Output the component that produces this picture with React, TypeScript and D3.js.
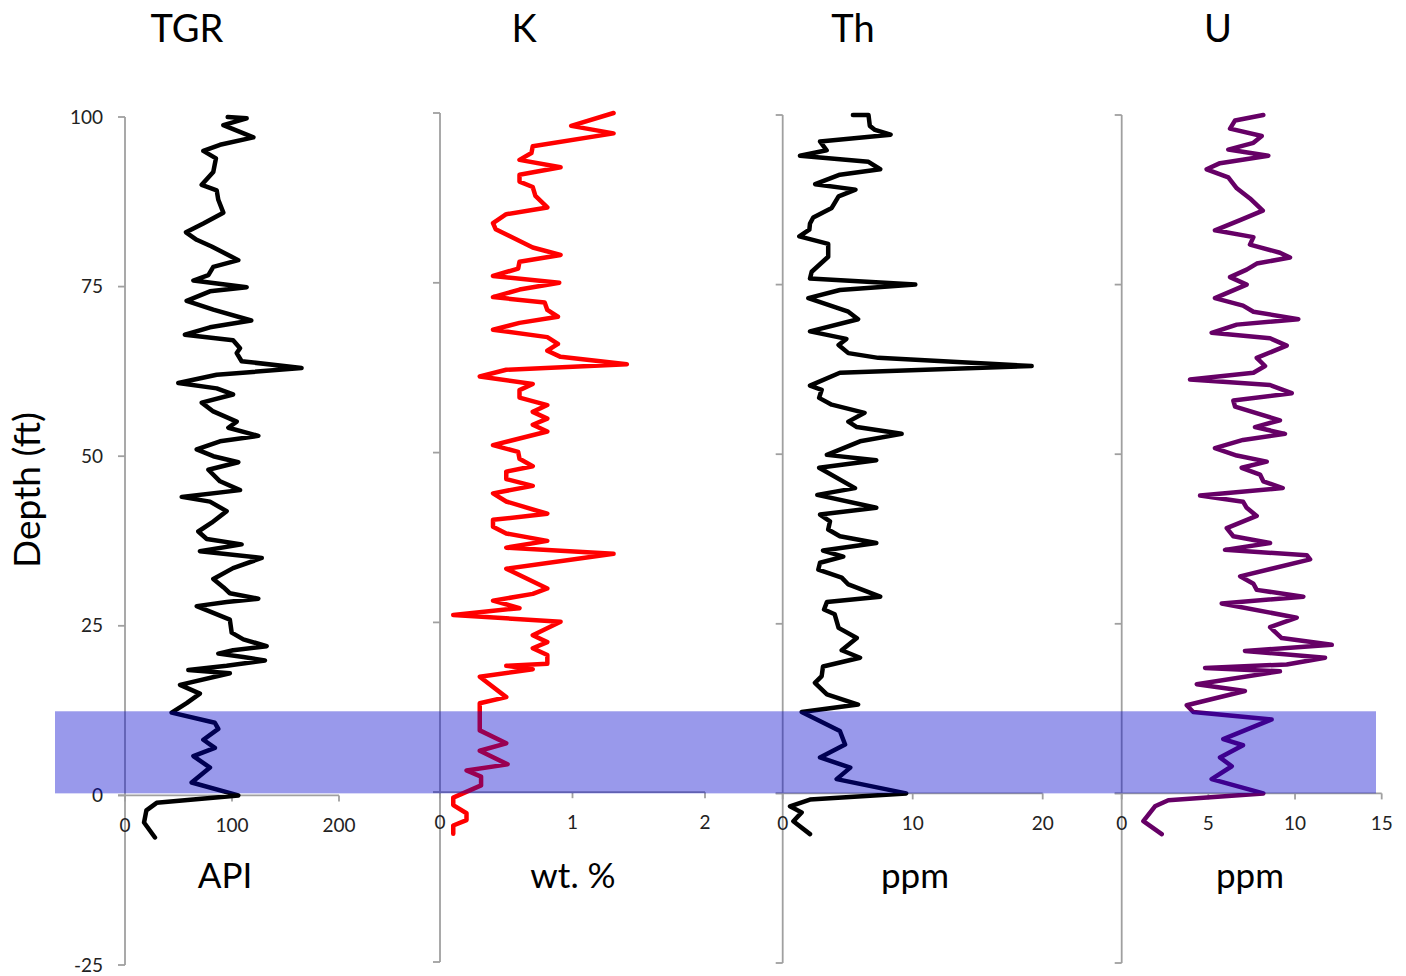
import React from "react";
import * as d3 from "d3";

// ---------- data ----------
const titles = ["TGR", "K", "Th", "U"];
const units = ["API", "wt. %", "ppm", "ppm"];
const depthTicks = [-25, 0, 25, 50, 75, 100];
const tgrTicks = [0, 100, 200];
const kTicks = [0, 1, 2];
const thTicks = [0, 10, 20];
const uTicks = [0, 5, 10, 15];

const tgrDepth = [100, 99.8, 98.8, 97.0, 95.9, 95.0, 93.9, 91.9, 90.0, 89.2, 87.8, 85.9, 84.3, 83.0, 81.9, 80.9, 78.9, 77.9, 76.7, 75.9, 74.9, 74.3, 72.9, 71.6, 70.0, 69.0, 67.9, 67.1, 65.9, 65.2, 64.0, 63.0, 62.0, 60.8, 60.0, 59.1, 57.9, 56.6, 55.1, 54.2, 53.0, 52.2, 51.0, 50.0, 49.1, 48.0, 46.3, 45.0, 44.0, 43.3, 41.9, 40.2, 38.9, 37.8, 37.0, 36.0, 35.0, 33.5, 31.9, 30.7, 29.8, 29.0, 28.5, 27.9, 26.9, 25.9, 24.0, 23.0, 22.0, 21.4, 20.9, 20.4, 19.9, 19.1, 18.5, 18.0, 16.3, 15.0, 13.6, 12.2, 10.7, 9.8, 8.2, 7.0, 5.8, 4.1, 1.9, 0, -1.1, -2.2, -4.0, -6.2];
const tgrValue = [96, 113.7, 91.9, 120, 88.8, 73.2, 85, 82.5, 71.7, 85.7, 87.2, 91.9, 73.2, 57, 67, 81, 105.9, 82.5, 77.9, 63.9, 113.7, 79.4, 57.6, 82.5, 118, 79.4, 56, 101, 107.5, 104.4, 109, 165, 85.7, 49.8, 85.7, 101, 71.7, 82.5, 104.4, 96.6, 124.6, 88.8, 67, 82.5, 105.9, 77.9, 88.8, 107.5, 53, 79.4, 95, 81, 68.5, 76.4, 109, 70, 127.8, 101, 82.5, 91.9, 98, 124.6, 95, 67, 82.5, 98, 99.7, 110.6, 132.4, 101, 87.2, 110.6, 130.8, 95, 59.2, 98, 51.4, 70, 57.6, 43.6, 84, 87.2, 73.2, 84, 63.9, 79.4, 62.3, 105.9, 29.6, 20, 17.8, 28];

const kDepth = [100, 98.1, 97.0, 95.1, 94.1, 93.1, 92.0, 90.9, 89.9, 89.1, 87.8, 86.1, 85.1, 83.8, 82.9, 80.2, 79.1, 78.1, 77.1, 76.0, 75.0, 74.0, 72.9, 72.1, 71.0, 70.0, 69.1, 68.1, 67.0, 66.0, 65.0, 64.1, 63.0, 62.2, 61.2, 60.1, 59.2, 58.1, 57.0, 56.0, 55.0, 54.1, 53.1, 51.1, 50.1, 49.1, 48.0, 47.2, 46.1, 45.1, 44.0, 42.8, 41.0, 40.1, 39.1, 38.1, 37.0, 36.0, 35.1, 32.9, 30.0, 29.2, 28.2, 27.1, 26.1, 25.1, 23.1, 22.1, 21.2, 20.2, 18.9, 18.6, 18.1, 17.0, 14.0, 13.1, 9.1, 7.2, 6.1, 4.1, 3.2, 2.3, 1.0, -0.8, -1.9, -3.1, -4.1, -4.9, -6.1];
const kValue = [1.31, 0.99, 1.31, 0.70, 0.69, 0.60, 0.91, 0.60, 0.60, 0.70, 0.72, 0.81, 0.50, 0.40, 0.42, 0.70, 0.91, 0.60, 0.59, 0.40, 0.90, 0.60, 0.40, 0.79, 0.81, 0.89, 0.60, 0.40, 0.81, 0.89, 0.81, 0.91, 1.41, 0.50, 0.30, 0.70, 0.60, 0.60, 0.81, 0.70, 0.81, 0.70, 0.81, 0.40, 0.59, 0.60, 0.70, 0.50, 0.50, 0.70, 0.40, 0.50, 0.81, 0.40, 0.40, 0.50, 0.81, 0.50, 1.31, 0.50, 0.81, 0.70, 0.40, 0.60, 0.10, 0.91, 0.70, 0.81, 0.70, 0.81, 0.81, 0.50, 0.70, 0.30, 0.50, 0.30, 0.30, 0.50, 0.30, 0.51, 0.20, 0.31, 0.31, 0.10, 0.10, 0.20, 0.20, 0.10, 0.10];

const thDepth = [100, 100, 98.4, 97.8, 97.1, 96.1, 94.8, 94.0, 93.1, 92.0, 91.2, 89.8, 89.0, 88.0, 86.3, 84.9, 84.0, 83.1, 82.1, 81.0, 79.1, 76.9, 75.9, 75.0, 74.2, 73.0, 71.0, 69.9, 68.1, 67.0, 66.1, 64.9, 64.2, 63.0, 62.0, 60.1, 59.5, 58.3, 57.3, 56.1, 54.8, 54.0, 53.0, 51.9, 49.9, 49.1, 48.0, 45.0, 44.0, 42.1, 41.1, 40.1, 38.9, 37.9, 36.9, 35.8, 34.9, 34.0, 33.0, 31.8, 30.8, 29.0, 28.2, 27.1, 26.4, 24.4, 22.9, 21.1, 20.0, 18.7, 17.3, 16.3, 14.6, 13.1, 12.0, 9.2, 7.2, 5.3, 3.8, 2.1, 0, -0.9, -1.9, -2.8, -4.1, -6.0];
const thValue = [5.4, 6.6, 6.7, 7.1, 8.3, 2.87, 3.38, 1.33, 6.6, 7.5, 4.4, 2.5, 5.6, 4.3, 3.77, 2.35, 2.1, 2.05, 1.28, 3.5, 3.5, 2.23, 2.1, 10.2, 4.4, 1.97, 5.05, 5.8, 2.1, 4.9, 4.3, 5.05, 7.35, 19.15, 4.4, 2.1, 3.0, 2.8, 3.77, 6.3, 5.05, 5.7, 9.15, 5.95, 3.4, 7.2, 2.8, 5.56, 2.66, 7.2, 2.87, 3.64, 3.5, 4.4, 7.2, 3.1, 4.66, 2.87, 2.74, 4.54, 5.05, 7.5, 3.4, 3.18, 4.0, 4.3, 5.7, 4.54, 5.95, 3.1, 3.0, 2.48, 3.4, 5.8, 1.46, 4.4, 4.8, 2.87, 5.2, 4.15, 9.5, 2.1, 0.56, 1.46, 0.82, 2.1];

const uDepth = [100, 99.2, 98.0, 96.9, 95.9, 94.9, 94.0, 92.9, 92.0, 90.8, 89.2, 87.7, 85.9, 84.5, 83.0, 82.0, 80.9, 79.7, 79.0, 78.1, 77.2, 76.1, 75.0, 73.0, 71.9, 71.0, 69.9, 69.1, 67.9, 67.1, 66.0, 64.2, 63.0, 62.0, 61.0, 60.2, 59.0, 57.9, 57.0, 55.0, 54.0, 53.0, 52.1, 50.9, 49.8, 48.9, 48.0, 47.0, 46.0, 45.0, 43.9, 43.0, 42.1, 40.9, 39.1, 37.9, 36.9, 35.9, 35.1, 34.5, 32.0, 30.9, 30.0, 29.0, 28.0, 25.9, 24.5, 22.9, 21.9, 21.0, 20.0, 19.0, 18.5, 18.0, 16.1, 15.1, 13.0, 12.0, 10.9, 8.0, 7.1, 5.3, 4.0, 2.1, 0, -1.0, -1.9, -4.1, -6.0];
const uValue = [8.17, 6.54, 6.25, 8.08, 7.6, 6.15, 8.46, 5.67, 4.9, 6.15, 6.64, 7.4, 8.14, 6.83, 5.38, 7.6, 7.4, 9.13, 9.71, 7.79, 7.21, 6.25, 7.21, 5.38, 7.0, 7.6, 10.19, 6.64, 5.19, 8.56, 9.52, 7.79, 8.27, 7.6, 3.94, 8.56, 9.81, 6.44, 6.54, 9.13, 7.69, 9.42, 7.0, 5.38, 6.64, 8.37, 6.92, 7.98, 8.17, 9.29, 4.52, 7.0, 7.21, 7.79, 6.06, 6.44, 8.56, 5.96, 10.68, 10.87, 6.83, 7.6, 7.79, 10.48, 5.77, 10.1, 8.56, 9.23, 12.12, 7.11, 11.73, 9.52, 4.81, 9.13, 4.33, 7.11, 3.75, 4.13, 8.65, 5.86, 7.0, 5.67, 6.35, 5.19, 8.17, 2.69, 1.92, 1.25, 2.31];

const bandDepth = [0.3, 12.4];

// ---------- layout ----------
const W = 1406;
const H = 976;
const FONT = "Lato, 'Open Sans', sans-serif";
const AXIS = "#a0a0a0";

const panels = [
  { depth: tgrDepth, value: tgrValue, ticks: tgrTicks, color: "#000000", left: 125, right: 339, top: 117, bottom: 965, titleX: 187, unitX: 225, depthLabels: true },
  { depth: kDepth, value: kValue, ticks: kTicks, color: "#ff0000", left: 440, right: 705, top: 113, bottom: 962, titleX: 524, unitX: 573, depthLabels: false },
  { depth: thDepth, value: thValue, ticks: thTicks, color: "#000000", left: 782.7, right: 1042.7, top: 115, bottom: 963, titleX: 853, unitX: 915, depthLabels: false },
  { depth: uDepth, value: uValue, ticks: uTicks, color: "#660066", left: 1121.7, right: 1381.7, top: 115, bottom: 963, titleX: 1218, unitX: 1250, depthLabels: false },
];

const bandLeft = 55;
const bandRight = 1376;

export default function App() {
  const bandY = d3.scaleLinear().domain([-25, 100]).range([panels[0].bottom, panels[0].top]);
  return (
    <svg
      width={W}
      height={H}
      style={{ position: "absolute", left: 0, top: 0, background: "#fff" }}
      fontFamily={FONT}
    >
      {panels.map((p, i) => {
        const x = d3.scaleLinear().domain([0, p.ticks[p.ticks.length - 1]]).range([p.left, p.right]);
        const y = d3.scaleLinear().domain([-25, 100]).range([p.bottom, p.top]);
        const pts: [number, number][] = p.depth.map((d, k) => [p.value[k], d]);
        const line = d3
          .line<[number, number]>()
          .x((d) => x(d[0]))
          .y((d) => y(d[1]));
        const y0 = y(0);
        return (
          <g key={i}>
            <line x1={x(0)} x2={x(0)} y1={y(100)} y2={y(-25)} stroke={AXIS} strokeWidth={1.8} />
            {depthTicks.map((t) => (
              <line key={t} x1={x(0) - 7} x2={x(0)} y1={y(t)} y2={y(t)} stroke={AXIS} strokeWidth={1.8} />
            ))}
            {p.depthLabels &&
              depthTicks.map((t) => (
                <text key={t} x={x(0) - 22} y={y(t)} dy="0.35em" textAnchor="end" fontSize={19} fill="#222">
                  {t}
                </text>
              ))}
            <line x1={x(0) - 7} x2={x(p.ticks[p.ticks.length - 1])} y1={y0} y2={y0} stroke={AXIS} strokeWidth={1.8} />
            {p.ticks.map((t) => (
              <line key={t} x1={x(t)} x2={x(t)} y1={y0} y2={y0 + 6} stroke={AXIS} strokeWidth={1.8} />
            ))}
            {p.ticks.map((t) => (
              <text key={t} x={x(t)} y={y0 + 37} textAnchor="middle" fontSize={19} fill="#222">
                {t}
              </text>
            ))}
            <path d={line(pts) || ""} fill="none" stroke={p.color} strokeWidth={4.5} strokeLinejoin="round" strokeLinecap="round" />
            <text x={p.titleX} y={42} textAnchor="middle" fontSize={38} fill="#000">
              {titles[i]}
            </text>
            <text x={p.unitX} y={888} textAnchor="middle" fontSize={35} fill="#000">
              {units[i]}
            </text>
          </g>
        );
      })}
      <rect
        x={bandLeft}
        width={bandRight - bandLeft}
        y={bandY(bandDepth[1])}
        height={bandY(bandDepth[0]) - bandY(bandDepth[1])}
        fill="#0000cc"
        fillOpacity={0.4}
      />
      <text
        transform={`translate(${27},${490}) rotate(-90)`}
        textAnchor="middle"
        dy="0.35em"
        fontSize={37}
        fill="#000"
      >
        Depth (ft)
      </text>
    </svg>
  );
}
